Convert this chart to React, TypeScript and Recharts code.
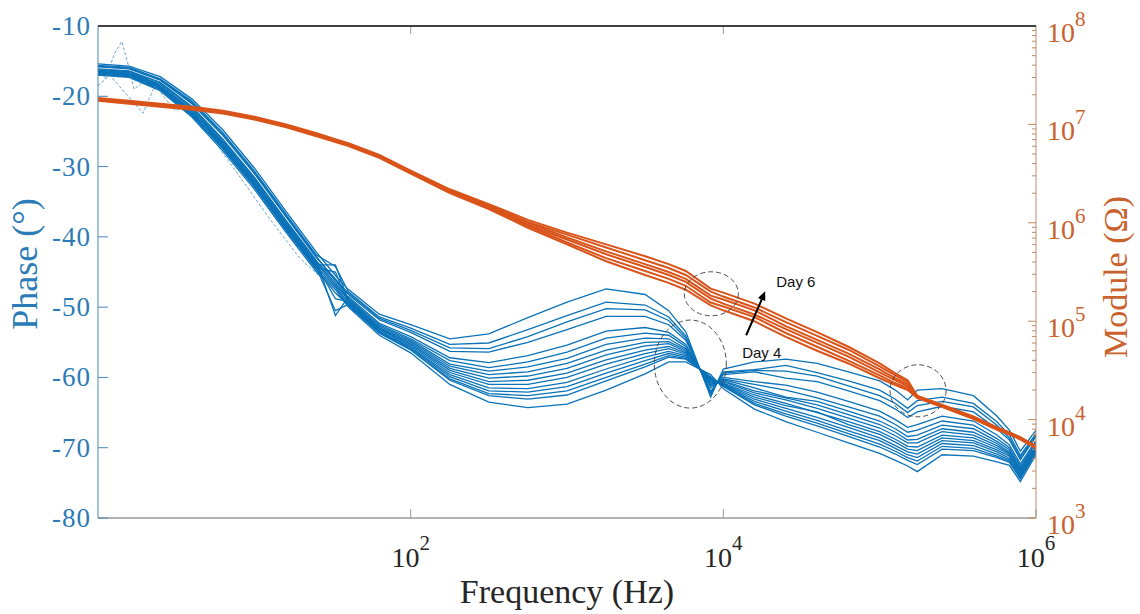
import React from 'react'
import { LineChart, Line, XAxis, YAxis, ReferenceDot } from 'recharts'

// Frequency grid (Hz) shared by all measured sweeps
const FREQ = [
  1, 1.58, 2.5, 4, 6.3, 10, 16, 25, 33, 40, 63, 100, 178, 316, 562, 1000, 1780, 3160, 4470, 5750,
  8300, 10000, 15800, 25100, 39800, 63100, 100000, 126000, 151000, 174000, 251000, 398000, 562000,
  676000, 794000, 1000000,
]

// Phase (deg), one sweep per array, roughly from the upper curve of the hump to the lower one
const PHASE_A = [-15.4, -15.7, -17.2, -20.4, -24.8, -30.2, -36.4, -42.2, -45.5, -47.5, -51.0, -52.5, -54.5, -53.8, -51.5, -49.3, -47.4, -48.2, -50.5, -53.5, -62.8, -58.8, -57.8, -57.4, -58.0, -59.2, -60.5, -61.8, -63.2, -61.8, -61.6, -62.6, -65.5, -67.5, -70.5, -67.5]
const PHASE_B = [-15.6, -15.9, -17.5, -20.7, -25.2, -30.6, -36.8, -42.6, -44.2, -47.8, -51.4, -53.0, -55.3, -55.1, -53.2, -51.2, -49.3, -49.7, -51.4, -54.1, -62.4, -59.2, -58.9, -58.3, -59.3, -60.5, -61.8, -63.1, -64.4, -63.3, -62.8, -63.7, -66.3, -68.2, -71.1, -68.0]
const PHASE_K = [-15.7, -16.0, -17.6, -20.9, -25.4, -30.8, -37.0, -42.8, -46.2, -48.0, -51.6, -53.3, -55.8, -55.9, -54.2, -52.1, -50.2, -50.4, -51.9, -54.4, -62.2, -59.4, -59.0, -59.1, -59.8, -61.2, -62.6, -63.7, -65.0, -64.0, -63.4, -64.2, -66.8, -68.6, -71.4, -68.2]
const PHASE_C = [-15.8, -16.1, -17.7, -21.1, -25.6, -31.0, -37.2, -43.0, -46.0, -48.2, -51.8, -53.6, -56.3, -56.4, -55.0, -53.2, -51.3, -51.3, -52.5, -54.7, -62.0, -59.6, -59.2, -60.1, -60.6, -61.9, -63.3, -64.5, -65.7, -64.9, -64.1, -64.9, -67.3, -68.9, -71.7, -68.4]
const PHASE_D = [-16.1, -16.4, -18.0, -21.5, -26.1, -31.5, -37.7, -43.4, -51.2, -48.5, -52.3, -54.2, -57.2, -57.9, -56.9, -55.4, -53.4, -52.9, -53.6, -55.3, -61.5, -60.0, -60.6, -61.1, -62.1, -63.4, -64.8, -66.0, -67.1, -66.7, -65.5, -66.2, -68.2, -69.6, -72.3, -69.0]
const PHASE_L = [-16.2, -16.5, -18.1, -21.6, -26.3, -31.7, -37.9, -43.5, -46.1, -48.7, -52.5, -54.5, -57.6, -58.6, -57.8, -56.4, -54.4, -53.7, -54.0, -55.6, -61.2, -60.2, -61.0, -61.8, -62.9, -64.2, -65.5, -66.7, -67.8, -67.5, -66.2, -66.8, -68.7, -70.0, -72.6, -69.2]
const PHASE_E = [-16.3, -16.6, -18.3, -21.8, -26.5, -31.9, -38.1, -43.7, -46.5, -48.9, -52.7, -54.7, -58.1, -59.1, -58.5, -57.3, -55.3, -54.4, -54.5, -55.9, -61.0, -60.3, -61.5, -62.8, -63.4, -64.8, -66.2, -67.3, -68.4, -68.2, -66.8, -67.3, -69.1, -70.3, -72.9, -69.4]
const PHASE_P = [-16.4, -16.7, -18.4, -22.0, -26.7, -32.1, -38.3, -43.9, -46.8, -49.0, -52.9, -54.9, -58.4, -59.6, -59.2, -58.0, -56.1, -55.0, -54.9, -56.1, -60.8, -60.5, -61.9, -62.9, -63.9, -65.3, -66.7, -67.8, -68.9, -68.8, -67.3, -67.8, -69.4, -70.6, -73.1, -69.6]
const PHASE_F = [-16.4, -16.7, -18.5, -22.1, -26.8, -32.2, -38.4, -44.0, -44.0, -49.1, -53.0, -55.1, -58.7, -60.1, -59.8, -58.7, -56.8, -55.5, -55.2, -56.3, -60.7, -60.6, -62.2, -63.2, -64.4, -65.8, -67.2, -68.3, -69.3, -69.3, -67.7, -68.2, -69.7, -70.8, -73.3, -69.8]
const PHASE_M = [-16.5, -16.8, -18.6, -22.2, -26.9, -32.3, -38.5, -44.1, -48.8, -49.2, -53.1, -55.3, -59.0, -60.6, -60.4, -59.4, -57.5, -56.1, -55.6, -56.5, -60.5, -60.8, -62.5, -63.7, -65.0, -66.3, -67.7, -68.8, -69.8, -69.9, -68.2, -68.6, -70.0, -71.0, -73.5, -70.0]
const PHASE_G = [-16.6, -16.9, -18.7, -22.3, -27.0, -32.4, -38.6, -44.3, -47.0, -49.4, -53.2, -55.5, -59.3, -61.0, -61.0, -60.0, -58.1, -56.6, -55.9, -56.7, -60.4, -60.9, -62.8, -64.0, -64.9, -66.7, -68.1, -69.2, -70.2, -70.4, -68.6, -69.0, -70.3, -71.2, -73.7, -70.1]
const PHASE_N = [-16.6, -16.9, -18.8, -22.5, -27.2, -32.6, -38.8, -44.4, -45.0, -49.5, -53.4, -55.7, -59.6, -61.5, -61.6, -60.7, -58.8, -57.1, -56.3, -56.9, -60.2, -61.0, -63.1, -64.4, -65.7, -67.1, -68.6, -69.7, -70.6, -70.9, -69.0, -69.3, -70.6, -71.5, -73.9, -70.3]
const PHASE_H = [-16.7, -17.0, -18.9, -22.6, -27.3, -32.7, -38.9, -44.5, -50.5, -49.6, -53.5, -55.8, -59.9, -61.9, -62.1, -61.3, -59.4, -57.6, -56.6, -57.1, -60.1, -61.1, -63.4, -64.8, -66.1, -67.6, -69.0, -70.1, -71.0, -71.4, -69.4, -69.7, -70.9, -71.7, -74.1, -70.4]
const PHASE_O = [-16.8, -17.1, -19.0, -22.7, -27.4, -32.8, -39.0, -44.6, -48.0, -49.7, -53.6, -56.0, -60.2, -62.3, -62.6, -61.9, -60.0, -58.1, -56.9, -57.3, -60.0, -61.2, -63.7, -65.2, -66.5, -68.0, -69.5, -70.5, -71.4, -71.9, -69.8, -70.1, -71.2, -71.9, -74.3, -70.6]
const PHASE_I = [-16.9, -17.2, -19.0, -22.8, -27.5, -32.9, -39.1, -44.7, -47.2, -49.8, -53.7, -56.1, -60.4, -62.6, -63.1, -62.5, -60.5, -58.5, -57.1, -57.4, -59.9, -61.3, -63.9, -65.5, -66.9, -68.4, -69.9, -70.9, -71.8, -72.4, -70.2, -70.4, -71.4, -72.1, -74.4, -70.7]
const PHASE_J = [-17.0, -17.3, -19.2, -23.0, -27.8, -33.2, -39.4, -45.0, -47.5, -50.0, -54.0, -56.5, -61.0, -63.5, -64.3, -63.8, -61.8, -59.5, -57.8, -57.8, -59.6, -61.6, -64.5, -66.3, -67.8, -69.3, -70.8, -71.8, -72.6, -73.4, -71.0, -71.2, -72.0, -72.5, -74.8, -71.0]

// two noisy low-frequency sweeps, sampled on their own points
const NOISE_FREQ_1 = [1, 1.12, 1.27, 1.42, 1.56, 1.7, 1.94, 2.21, 2.69, 3.34, 4.2]
const NOISE_PHASE_1 = [-16.0, -17.5, -14.0, -12.2, -15.5, -19.0, -18.0, -17.5, -19.0, -20.5, -22.5]
const NOISE_FREQ_2 = [1, 1.19, 1.49, 1.94, 2.31, 3.1, 3.87, 5.2, 8.1, 12.6, 19.5, 30.4]
const NOISE_PHASE_2 = [-18.5, -17.0, -19.5, -22.4, -18.5, -22.0, -21.2, -25.5, -31.5, -37.5, -43.0, -47.0]

// Module (Ohm), upper to lower sweep
const MODULE_A = [1.86e7, 1.74e7, 1.62e7, 1.51e7, 1.38e7, 1.2e7, 1.0e7, 8.13e6, 7.08e6, 6.46e6, 4.9e6, 3.39e6, 2.19e6, 1.55e6, 1.07e6, 7.94e5, 6.03e5, 4.57e5, 3.8e5, 3.24e5, 2.14e5, 1.95e5, 1.51e5, 1.07e5, 7.76e4, 5.5e4, 3.72e4, 2.95e4, 2.51e4, 1.74e4, 1.41e4, 1.07e4, 8.32e3, 7.41e3, 6.61e3, 5.37e3]
const MODULE_B = [1.82e7, 1.7e7, 1.58e7, 1.48e7, 1.35e7, 1.17e7, 9.77e6, 7.94e6, 6.92e6, 6.31e6, 4.79e6, 3.31e6, 2.14e6, 1.51e6, 1.02e6, 7.59e5, 5.62e5, 4.17e5, 3.47e5, 2.95e5, 2.0e5, 1.78e5, 1.38e5, 9.77e4, 7.08e4, 5.13e4, 3.47e4, 2.82e4, 2.4e4, 1.74e4, 1.41e4, 1.07e4, 8.32e3, 7.41e3, 6.61e3, 5.37e3]
const MODULE_C = [1.82e7, 1.7e7, 1.58e7, 1.48e7, 1.35e7, 1.17e7, 9.77e6, 7.94e6, 6.92e6, 6.31e6, 4.79e6, 3.31e6, 2.09e6, 1.48e6, 1.0e6, 7.08e5, 5.13e5, 3.8e5, 3.16e5, 2.69e5, 1.82e5, 1.66e5, 1.29e5, 8.91e4, 6.46e4, 4.68e4, 3.24e4, 2.63e4, 2.29e4, 1.7e4, 1.38e4, 1.05e4, 8.13e3, 7.24e3, 6.46e3, 5.25e3]
const MODULE_D = [1.78e7, 1.66e7, 1.55e7, 1.45e7, 1.32e7, 1.15e7, 9.55e6, 7.76e6, 6.76e6, 6.17e6, 4.68e6, 3.24e6, 2.09e6, 1.45e6, 9.55e5, 6.76e5, 4.79e5, 3.55e5, 2.95e5, 2.51e5, 1.7e5, 1.51e5, 1.17e5, 8.32e4, 6.03e4, 4.37e4, 3.02e4, 2.51e4, 2.19e4, 1.7e4, 1.38e4, 1.05e4, 8.13e3, 7.24e3, 6.46e3, 5.25e3]
const MODULE_E = [1.78e7, 1.66e7, 1.55e7, 1.45e7, 1.32e7, 1.15e7, 9.55e6, 7.76e6, 6.76e6, 6.17e6, 4.68e6, 3.24e6, 2.04e6, 1.41e6, 9.33e5, 6.31e5, 4.37e5, 3.24e5, 2.69e5, 2.29e5, 1.55e5, 1.41e5, 1.1e5, 7.59e4, 5.5e4, 3.98e4, 2.82e4, 2.34e4, 2.09e4, 1.66e4, 1.35e4, 1.02e4, 7.94e3, 7.08e3, 6.31e3, 5.13e3]
const MODULE_F = [1.74e7, 1.62e7, 1.51e7, 1.41e7, 1.29e7, 1.12e7, 9.33e6, 7.59e6, 6.61e6, 6.03e6, 4.57e6, 3.16e6, 2.0e6, 1.38e6, 8.91e5, 6.03e5, 4.07e5, 2.95e5, 2.45e5, 2.09e5, 1.45e5, 1.29e5, 1.0e5, 6.92e4, 5.01e4, 3.72e4, 2.63e4, 2.24e4, 2.0e4, 1.66e4, 1.35e4, 1.02e4, 7.94e3, 7.08e3, 6.31e3, 5.13e3]

// axis ticks
const FREQ_TICKS = [100, 10000, 1000000]
const TOP_TICKS = [100, 10000]
const PHASE_TICKS = [-80, -70, -60, -50, -40, -30, -20, -10]
const MODULE_DECADES = [1e3, 1e4, 1e5, 1e6, 1e7, 1e8]

const PHASE_SERIES = [
  PHASE_A, PHASE_B, PHASE_K, PHASE_C, PHASE_D, PHASE_L, PHASE_E, PHASE_P,
  PHASE_F, PHASE_M, PHASE_G, PHASE_N, PHASE_H, PHASE_O, PHASE_I, PHASE_J,
]
const MODULE_SERIES = [MODULE_A, MODULE_B, MODULE_C, MODULE_D, MODULE_E, MODULE_F]

// minor ticks 2..9 between decades, majors on the decades
const MODULE_TICKS: number[] = []
MODULE_DECADES.forEach((d, i) => {
  MODULE_TICKS.push(d)
  if (i < MODULE_DECADES.length - 1) {
    for (let m = 2; m <= 9; m++) MODULE_TICKS.push(m * d)
  }
})

const toPoints = (freq: number[], values: number[]) => freq.map((f, i) => ({ f, v: values[i] }))

// layout
const CHART_W = 1140
const CHART_H = 614
const TOP_M = 26
const LEFT_W = 98
const RIGHT_W = 104
const PLOT_W = CHART_W - LEFT_W - RIGHT_W

const BLUE = '#0a72b8'
const BLUE_TEXT = '#2b7bb7'
const BLUE_AXIS = '#4a86b6'
const ORANGE = '#d9541a'
const ORANGE_TEXT = '#c9622d'
const ORANGE_AXIS = '#c08a66'
const FRAME = '#404040'
const SERIF = '"Liberation Serif", "Times New Roman", serif'
const SANS = '"Liberation Sans", Arial, sans-serif'

function PhaseTick({ x, y, payload }: any) {
  return (
    <g>
      <line x1={x} x2={x + 10} y1={y} y2={y} stroke={BLUE_AXIS} />
      <text x={x - 7} y={y + 9} textAnchor="end" fill={BLUE_TEXT} fontFamily={SERIF} fontSize={27} letterSpacing={1}>
        {payload.value}
      </text>
    </g>
  )
}

function ModuleTick({ x, y, payload }: any) {
  const exp = Math.log10(payload.value)
  const major = Math.abs(exp - Math.round(exp)) < 1e-6
  return (
    <g>
      <line x1={x - (major ? 8 : 4)} x2={x} y1={y} y2={y} stroke={ORANGE_AXIS} />
      {major && (
        <text x={x + 11} y={y + 16} fill={ORANGE_TEXT} fontFamily={SERIF} fontSize={28}>
          10
          <tspan dy={-16} fontSize={21}>
            {Math.round(exp)}
          </tspan>
        </text>
      )}
    </g>
  )
}

function FreqTick({ x, y, payload }: any) {
  const exp = Math.round(Math.log10(payload.value))
  return (
    <g>
      <line x1={x} x2={x} y1={y} y2={y - 9} stroke="#9a9a9a" />
      <text x={x} y={y + 49} textAnchor="middle" fill="#262626" fontFamily={SERIF} fontSize={28}>
        10
        <tspan dy={-17} fontSize={21}>
          {exp}
        </tspan>
      </text>
    </g>
  )
}

const topTick = (p: any) => <line x1={p.cx} x2={p.cx} y1={p.cy} y2={p.cy + 8} stroke="#9a9a9a" />

const ellipse = (rx: number, ry: number) => (p: any) => (
  <ellipse cx={p.cx} cy={p.cy} rx={rx} ry={ry} fill="none" stroke="#3a3a3a" strokeWidth={0.9} strokeDasharray="5 3" />
)

const note = (text: string) => (p: any) => (
  <text x={p.cx} y={p.cy} dominantBaseline="central" fontFamily={SANS} fontSize={15} fill="#111">
    {text}
  </text>
)

const arrow = (p: any) => {
  const hx = p.cx + 19
  const hy = p.cy - 44
  return (
    <g>
      <line x1={p.cx} y1={p.cy} x2={hx - 2} y2={hy + 5} stroke="#000" strokeWidth={2} />
      <polygon points={`${hx},${hy} ${hx - 7.2},${hy + 6.7} ${hx + 0.1},${hy + 9.8}`} fill="#000" />
    </g>
  )
}

export default function App() {
  return (
    <div style={{ position: 'absolute', left: 0, top: 0, width: CHART_W, height: CHART_H, background: '#fff' }}>
      {/* top edge of the plot box */}
      <div
        style={{
          position: 'absolute',
          left: LEFT_W,
          top: TOP_M - 1,
          width: PLOT_W,
          height: 0,
          borderTop: `2px solid ${FRAME}`,
          zIndex: 2,
        }}
      />
      <LineChart width={CHART_W} height={CHART_H} margin={{ top: TOP_M, right: 0, bottom: 0, left: 0 }}>
        <XAxis
          xAxisId="bottom"
          type="number"
          dataKey="f"
          scale="log"
          domain={[1, 1000000]}
          allowDataOverflow
          ticks={FREQ_TICKS}
          interval={0}
          height={96}
          tickSize={0}
          tickMargin={0}
          tickLine={false}
          axisLine={{ stroke: '#9a9a9a', strokeWidth: 1.5 }}
          tick={<FreqTick />}
          label={{
            content: (p: any) => (
              <text
                x={p.viewBox.x + p.viewBox.width / 2}
                y={p.viewBox.y + 85}
                textAnchor="middle"
                fill="#262626"
                fontFamily={SERIF}
                fontSize={34}
              >
                Frequency (Hz)
              </text>
            ),
          }}
        />
        <YAxis
          yAxisId="phase"
          type="number"
          domain={[-80, -10]}
          ticks={PHASE_TICKS}
          interval={0}
          width={LEFT_W}
          tickSize={0}
          tickMargin={0}
          tickLine={false}
          axisLine={{ stroke: BLUE_AXIS }}
          tick={<PhaseTick />}
          label={{
            content: (p: any) => {
              const cx = p.viewBox.x + 25
              const cy = p.viewBox.y + p.viewBox.height / 2 - 8
              return (
                <text
                  x={cx}
                  y={cy}
                  transform={`rotate(-90 ${cx} ${cy})`}
                  textAnchor="middle"
                  dominantBaseline="central"
                  fill={BLUE_TEXT}
                  fontFamily={SERIF}
                  fontSize={36}
                >
                  Phase (°)
                </text>
              )
            },
          }}
        />
        <YAxis
          yAxisId="module"
          orientation="right"
          type="number"
          scale="log"
          domain={[1000, 100000000]}
          allowDataOverflow
          ticks={MODULE_TICKS}
          interval={0}
          width={RIGHT_W}
          tickSize={0}
          tickMargin={0}
          tickLine={false}
          axisLine={{ stroke: ORANGE_AXIS }}
          tick={<ModuleTick />}
          label={{
            content: (p: any) => {
              const cx = p.viewBox.x + 79
              const cy = p.viewBox.y + p.viewBox.height / 2 + 5
              return (
                <text
                  x={cx}
                  y={cy}
                  transform={`rotate(-90 ${cx} ${cy})`}
                  textAnchor="middle"
                  dominantBaseline="central"
                  fill={ORANGE_TEXT}
                  fontFamily={SERIF}
                  fontSize={34}
                >
                  Module (Ω)
                </text>
              )
            },
          }}
        />

        {TOP_TICKS.map((f) => (
          <ReferenceDot key={`top-${f}`} xAxisId="bottom" yAxisId="phase" x={f} y={-10} r={1} ifOverflow="visible" shape={topTick} />
        ))}

        {PHASE_SERIES.map((values, i) => (
          <Line
            key={`phase-${i}`}
            xAxisId="bottom"
            yAxisId="phase"
            data={toPoints(FREQ, values)}
            dataKey="v"
            type="linear"
            stroke={BLUE}
            strokeWidth={1.3}
            dot={false}
            activeDot={false}
            isAnimationActive={false}
          />
        ))}
        <Line
          xAxisId="bottom"
          yAxisId="phase"
          data={toPoints(NOISE_FREQ_1, NOISE_PHASE_1)}
          dataKey="v"
          stroke="#3d8fc0"
          strokeWidth={0.8}
          strokeDasharray="3 2"
          dot={false}
          activeDot={false}
          isAnimationActive={false}
        />
        <Line
          xAxisId="bottom"
          yAxisId="phase"
          data={toPoints(NOISE_FREQ_2, NOISE_PHASE_2)}
          dataKey="v"
          stroke="#3d8fc0"
          strokeWidth={0.8}
          strokeDasharray="3 2"
          dot={false}
          activeDot={false}
          isAnimationActive={false}
        />
        {MODULE_SERIES.map((values, i) => (
          <Line
            key={`module-${i}`}
            xAxisId="bottom"
            yAxisId="module"
            data={toPoints(FREQ, values)}
            dataKey="v"
            type="linear"
            stroke={ORANGE}
            strokeWidth={2}
            dot={false}
            activeDot={false}
            isAnimationActive={false}
          />
        ))}

        <ReferenceDot xAxisId="bottom" yAxisId="phase" x={8380} y={-48.1} r={1} shape={ellipse(27, 22)} />
        <ReferenceDot xAxisId="bottom" yAxisId="phase" x={6150} y={-58.1} r={1} shape={ellipse(36, 44)} />
        <ReferenceDot xAxisId="bottom" yAxisId="phase" x={176000} y={-61.9} r={1} shape={ellipse(28, 26)} />
        <ReferenceDot xAxisId="bottom" yAxisId="phase" x={14000} y={-54.0} r={1} shape={arrow} />
        <ReferenceDot xAxisId="bottom" yAxisId="phase" x={21800} y={-46.3} r={1} shape={note('Day 6')} />
        <ReferenceDot xAxisId="bottom" yAxisId="phase" x={13200} y={-56.4} r={1} shape={note('Day 4')} />
      </LineChart>
    </div>
  )
}
